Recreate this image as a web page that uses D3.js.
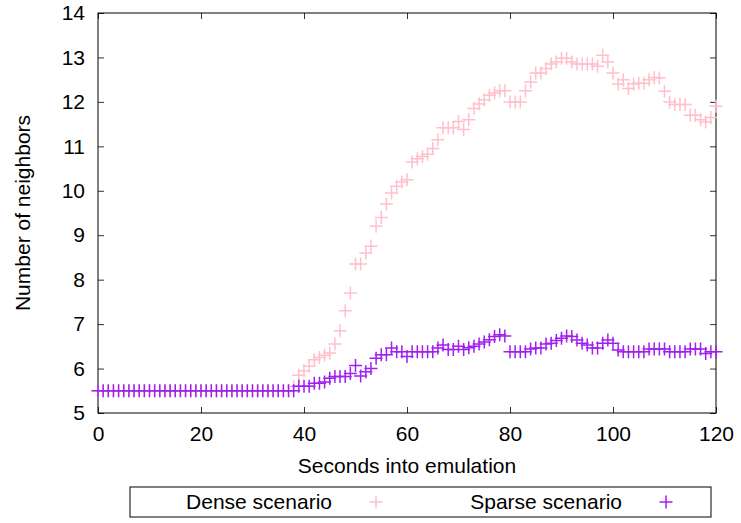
<!DOCTYPE html>
<html>
<head>
<meta charset="utf-8">
<script src="https://cdn.jsdelivr.net/npm/d3@7"></script>
<style>
body { margin: 0; background: white; }
text { font-family: "Liberation Sans", Arial, sans-serif; }
</style>
</head>
<body>
<div id="chart"></div>
<script>
// data, one point per second (0..120)
var seconds = d3.range(0, 121)
var flat = d3.range(0, 38).map(function(){ return 5.5 })

var dense = flat.concat([
    5.6, 5.85, 5.95, 6.05, 6.2, 6.25, 6.3, 6.35, 6.55, 6.85,     // 38-47
    7.3, 7.7, 8.35, 8.35, 8.6, 8.75, 9.2, 9.4, 9.7, 9.95,        // 48-57
    10.1, 10.2, 10.25, 10.65, 10.72, 10.77, 10.82, 10.95, 11.15, 11.42, // 58-67
    11.42, 11.42, 11.56, 11.38, 11.6, 11.85, 11.95, 12.05, 12.15, 12.2, // 68-77
    12.25, 12.25, 12.0, 12.0, 12.0, 12.25, 12.45, 12.65, 12.65, 12.75,  // 78-87
    12.85, 12.9, 12.98, 12.98, 12.9, 12.85, 12.85, 12.85, 12.85, 12.8,  // 88-97
    13.05, 12.9, 12.65, 12.4, 12.5, 12.3, 12.4, 12.42, 12.42, 12.5,     // 98-107
    12.55, 12.54, 12.24, 12.0, 11.94, 11.94, 11.94, 11.7, 11.7, 11.6,   // 108-117
    11.55, 11.65, 11.9                                                  // 118-120
])

var sparse = flat.concat([
    5.5, 5.6, 5.6, 5.6, 5.67, 5.67, 5.7, 5.78, 5.82, 5.82,       // 38-47
    5.82, 5.89, 6.07, 5.83, 5.93, 6.0, 6.23, 6.31, 6.31, 6.46,   // 48-57
    6.38, 6.38, 6.27, 6.38, 6.38, 6.38, 6.38, 6.38, 6.46, 6.53,  // 58-67
    6.43, 6.43, 6.5, 6.43, 6.47, 6.5, 6.55, 6.6, 6.65, 6.72,     // 68-77
    6.76, 6.73, 6.38, 6.38, 6.38, 6.38, 6.44, 6.46, 6.46, 6.55,  // 78-87
    6.57, 6.63, 6.68, 6.73, 6.72, 6.64, 6.57, 6.53, 6.46, 6.46,  // 88-97
    6.57, 6.64, 6.57, 6.42, 6.38, 6.38, 6.38, 6.38, 6.38, 6.44,  // 98-107
    6.44, 6.44, 6.44, 6.38, 6.38, 6.38, 6.38, 6.44, 6.44, 6.44,  // 108-117
    6.34, 6.38, 6.38                                             // 118-120
])

var xTicks = [0, 20, 40, 60, 80, 100, 120]
var yTicks = [5, 6, 7, 8, 9, 10, 11, 12, 13, 14]
var keys = ["Dense scenario", "Sparse scenario"]
var colors = ["#ffc0cb", "#a020f0"]

var fontSize = "21px"
var margin = {top: 13, right: 25, bottom: 110, left: 98}
var width = 741 - margin.left - margin.right
var height = 523 - margin.top - margin.bottom

var svg = d3.select("#chart")
    .append("svg")
    .attr("width", 741)
    .attr("height", 523)
    .append("g")
    .attr("transform", "translate(" + margin.left + "," + margin.top + ")")

var x = d3.scaleLinear().domain([0, 120]).range([0, width])
var y = d3.scaleLinear().domain([5, 14]).range([height, 0])

// axes, ticks pointing inward like gnuplot
svg.append("g")
    .attr("class", "axis")
    .attr("transform", "translate(0," + height + ")")
    .call(d3.axisBottom(x).tickValues(xTicks).tickSizeInner(-6).tickSizeOuter(0).tickPadding(13))
svg.append("g")
    .attr("class", "axis")
    .call(d3.axisLeft(y).tickValues(yTicks).tickSizeInner(-6).tickSizeOuter(0).tickPadding(13))
svg.append("g")
    .attr("class", "axis")
    .call(d3.axisTop(x).tickValues(xTicks).tickSizeInner(-6).tickSizeOuter(0).tickFormat(""))
svg.append("g")
    .attr("class", "axis")
    .attr("transform", "translate(" + width + ",0)")
    .call(d3.axisRight(y).tickValues(yTicks).tickSizeInner(-6).tickSizeOuter(0).tickFormat(""))

svg.selectAll(".axis .domain").remove()
svg.selectAll(".axis text")
    .style("font-size", fontSize)
    .style("font-family", "Liberation Sans, Arial, sans-serif")
    .attr("fill", "black")
svg.selectAll(".axis line").attr("stroke", "#333")

// border
svg.append("rect")
    .attr("width", width)
    .attr("height", height)
    .attr("fill", "none")
    .attr("stroke", "black")

// axis labels
svg.append("text")
    .attr("text-anchor", "middle")
    .attr("x", width / 2)
    .attr("y", height + 60)
    .style("font-size", fontSize)
    .text("Seconds into emulation")
svg.append("text")
    .attr("text-anchor", "middle")
    .attr("transform", "rotate(-90)")
    .attr("x", -height / 2)
    .attr("y", -margin.left + 30)
    .style("font-size", fontSize)
    .text("Number of neighbors")

// cross marker
function cross(sel, size) {
    sel.attr("d", "M" + (-size) + ",0H" + size + "M0," + (-size) + "V" + size)
}

var series = [dense, sparse]
series.forEach(function(vals, k) {
    svg.append("g")
        .selectAll("path")
        .data(vals)
        .enter()
        .append("path")
        .attr("transform", function(d, i){ return "translate(" + x(seconds[i]) + "," + y(d) + ")" })
        .call(cross, 6.5)
        .attr("fill", "none")
        .attr("stroke", colors[k])
        .attr("stroke-width", 1.5)
})

// legend, two columns of equal width
var colW = 290
var leg = svg.append("g")
    .attr("transform", "translate(" + (-margin.left) + "," + (-margin.top) + ")")
leg.append("rect")
    .attr("x", 130).attr("y", 487)
    .attr("width", 581).attr("height", 30)
    .attr("fill", "white")
    .attr("stroke", "black")
leg.selectAll("legtext")
    .data(keys)
    .enter()
    .append("text")
    .attr("x", function(d, i){ return 332 + i * colW })
    .attr("y", 509)
    .attr("text-anchor", "end")
    .style("font-size", fontSize)
    .text(function(d){ return d })
leg.selectAll("legmark")
    .data(keys)
    .enter()
    .append("path")
    .attr("transform", function(d, i){ return "translate(" + (376 + i * colW) + ",502)" })
    .call(cross, 6.5)
    .attr("fill", "none")
    .attr("stroke", function(d, i){ return colors[i] })
    .attr("stroke-width", 1.5)
</script>
</body>
</html>
